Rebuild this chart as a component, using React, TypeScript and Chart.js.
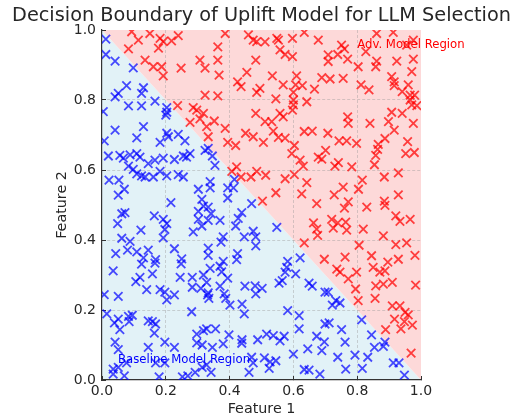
import { useEffect, useRef } from 'react';
import { Chart, registerables } from 'chart.js';

Chart.register(...registerables);

const TITLE = 'Decision Boundary of Uplift Model for LLM Selection';
const X_LABEL = 'Feature 1';
const Y_LABEL = 'Feature 2';
const ADV_LABEL = 'Adv. Model Region';
const BASE_LABEL = 'Baseline Model Region';
const ADV_LABEL_POS: [number, number] = [0.8, 0.95];
const BASE_LABEL_POS: [number, number] = [0.05, 0.05];
const TICKS = [0, 0.2, 0.4, 0.6, 0.8, 1.0];
// decision boundary line: Feature1 + Feature2 = 1
const boundary: [number, number][] = [[0, 1], [1, 0]];

const redPoints: [number, number][] = [
  [0.093, 0.995], [0.150, 0.990], [0.114, 0.971], [0.182, 0.976], [0.192, 0.967], [0.239, 0.984],
  [0.218, 0.969], [0.083, 0.946], [0.177, 0.948], [0.135, 0.914], [0.161, 0.895], [0.187, 0.895],
  [0.192, 0.869], [0.248, 0.891], [0.307, 0.914], [0.323, 0.891], [0.323, 0.814], [0.237, 0.784],
  [0.286, 0.778], [0.297, 0.771], [0.318, 0.762], [0.307, 0.746], [0.276, 0.736], [0.328, 0.724],
  [0.333, 0.695],
  [0.386, 0.990], [0.459, 0.986], [0.474, 0.971], [0.485, 0.967], [0.511, 0.966], [0.548, 0.976],
  [0.553, 0.971], [0.597, 0.976], [0.634, 0.993], [0.678, 0.971], [0.363, 0.952], [0.558, 0.943],
  [0.574, 0.930], [0.597, 0.924], [0.363, 0.914], [0.482, 0.914], [0.367, 0.871], [0.454, 0.879],
  [0.534, 0.869], [0.610, 0.869], [0.425, 0.852], [0.436, 0.838], [0.568, 0.843], [0.607, 0.843],
  [0.628, 0.841], [0.666, 0.831], [0.495, 0.833], [0.485, 0.822], [0.600, 0.822], [0.363, 0.812],
  [0.545, 0.803], [0.600, 0.800], [0.642, 0.795], [0.600, 0.786], [0.597, 0.771], [0.482, 0.762],
  [0.558, 0.762], [0.568, 0.752], [0.352, 0.740], [0.511, 0.738], [0.532, 0.738], [0.386, 0.719],
  [0.537, 0.711], [0.634, 0.710], [0.659, 0.711], [0.450, 0.705], [0.474, 0.695], [0.553, 0.693],
  [0.574, 0.691], [0.394, 0.679], [0.419, 0.670], [0.506, 0.679], [0.603, 0.670],
  [0.751, 0.957], [0.760, 0.946], [0.709, 0.929], [0.739, 0.930], [0.709, 0.910], [0.770, 0.917],
  [0.803, 0.895], [0.861, 0.990], [0.913, 0.993], [0.955, 0.957], [0.976, 0.971], [0.827, 0.938],
  [0.861, 0.911], [0.858, 0.895], [0.924, 0.911], [0.976, 0.917], [0.971, 0.881], [0.689, 0.864],
  [0.715, 0.860], [0.756, 0.862], [0.908, 0.867], [0.916, 0.852], [0.916, 0.841], [0.960, 0.843],
  [0.812, 0.843], [0.837, 0.829], [0.941, 0.824], [0.966, 0.814], [0.980, 0.814], [0.966, 0.800],
  [0.971, 0.786], [0.987, 0.784], [0.908, 0.765], [0.941, 0.762], [0.770, 0.752], [0.898, 0.738],
  [0.976, 0.733], [0.772, 0.733], [0.840, 0.733], [0.916, 0.714], [0.708, 0.705], [0.743, 0.683],
  [0.767, 0.683], [0.798, 0.676], [0.887, 0.690], [0.866, 0.673], [0.958, 0.681],
  [0.595, 0.647], [0.621, 0.628], [0.678, 0.637], [0.422, 0.609], [0.407, 0.596], [0.436, 0.580],
  [0.467, 0.580], [0.485, 0.596], [0.513, 0.585], [0.574, 0.575], [0.603, 0.587], [0.631, 0.611],
  [0.642, 0.564], [0.545, 0.535], [0.626, 0.532], [0.503, 0.511], [0.673, 0.504], [0.663, 0.449],
  [0.673, 0.431], [0.634, 0.392],
  [0.701, 0.656], [0.689, 0.631], [0.741, 0.621], [0.730, 0.611], [0.783, 0.609], [0.864, 0.659],
  [0.858, 0.642], [0.854, 0.615], [0.952, 0.647], [0.979, 0.650], [0.885, 0.580], [0.929, 0.592],
  [0.816, 0.571], [0.804, 0.545], [0.756, 0.551], [0.728, 0.529], [0.929, 0.529], [0.772, 0.509],
  [0.760, 0.491], [0.830, 0.494], [0.885, 0.511], [0.887, 0.499], [0.921, 0.469], [0.934, 0.453],
  [0.966, 0.459], [0.720, 0.459], [0.739, 0.449], [0.764, 0.451], [0.725, 0.434], [0.767, 0.428],
  [0.819, 0.431], [0.676, 0.413], [0.882, 0.412], [0.806, 0.385], [0.921, 0.387], [0.955, 0.392],
  [0.981, 0.356], [0.845, 0.355], [0.762, 0.351], [0.697, 0.345], [0.929, 0.345], [0.896, 0.337],
  [0.736, 0.317], [0.746, 0.308], [0.772, 0.289], [0.798, 0.308], [0.850, 0.322], [0.871, 0.308],
  [0.887, 0.312], [0.858, 0.269], [0.882, 0.274], [0.910, 0.279], [0.983, 0.271], [0.795, 0.260],
  [0.803, 0.227], [0.856, 0.233], [0.910, 0.212], [0.934, 0.212], [0.950, 0.193], [0.960, 0.186],
  [0.917, 0.174], [0.948, 0.167], [0.973, 0.157], [0.937, 0.146], [0.889, 0.144], [0.969, 0.077],
];

const bluePoints: [number, number][] = [
  [0.012, 0.974], [0.012, 0.930], [0.041, 0.911], [0.098, 0.892], [0.077, 0.841], [0.051, 0.819],
  [0.041, 0.809], [0.130, 0.835], [0.124, 0.819], [0.166, 0.797], [0.083, 0.783], [0.124, 0.783],
  [0.203, 0.778], [0.203, 0.765], [0.200, 0.757], [0.004, 0.767], [0.041, 0.714], [0.130, 0.724],
  [0.109, 0.692], [0.203, 0.705], [0.208, 0.695], [0.239, 0.702], [0.260, 0.683], [0.182, 0.679],
  [0.007, 0.683],
  [0.020, 0.640], [0.056, 0.642], [0.067, 0.634], [0.088, 0.643], [0.109, 0.647], [0.119, 0.637],
  [0.083, 0.611], [0.098, 0.602], [0.145, 0.618], [0.166, 0.628], [0.192, 0.634], [0.227, 0.630],
  [0.255, 0.640], [0.276, 0.647], [0.265, 0.637], [0.323, 0.656], [0.109, 0.589], [0.124, 0.583],
  [0.135, 0.580], [0.161, 0.580], [0.182, 0.596], [0.203, 0.583], [0.239, 0.587], [0.255, 0.580],
  [0.022, 0.571], [0.053, 0.571], [0.070, 0.545], [0.051, 0.528], [0.302, 0.545], [0.313, 0.516],
  [0.216, 0.507], [0.318, 0.497], [0.302, 0.482], [0.062, 0.475], [0.072, 0.478], [0.164, 0.469],
  [0.049, 0.447], [0.192, 0.459], [0.203, 0.447], [0.302, 0.459], [0.333, 0.456], [0.313, 0.440],
  [0.122, 0.428], [0.197, 0.430], [0.286, 0.423], [0.192, 0.406], [0.062, 0.405], [0.088, 0.396],
  [0.080, 0.371], [0.043, 0.361], [0.109, 0.366], [0.145, 0.371], [0.130, 0.349], [0.168, 0.344],
  [0.227, 0.375], [0.250, 0.346], [0.333, 0.356],
  [0.333, 0.662], [0.346, 0.640], [0.354, 0.613], [0.415, 0.573], [0.339, 0.567], [0.339, 0.549],
  [0.394, 0.549], [0.412, 0.549], [0.394, 0.520], [0.469, 0.504], [0.333, 0.494], [0.342, 0.475],
  [0.370, 0.456], [0.438, 0.478], [0.427, 0.462], [0.419, 0.440], [0.548, 0.436], [0.474, 0.425],
  [0.446, 0.409], [0.482, 0.409], [0.380, 0.409], [0.373, 0.394], [0.333, 0.377], [0.482, 0.383],
  [0.425, 0.361], [0.380, 0.339], [0.621, 0.349], [0.582, 0.339],
  [0.124, 0.331], [0.166, 0.334], [0.035, 0.312], [0.158, 0.303], [0.248, 0.332], [0.119, 0.293],
  [0.106, 0.281], [0.245, 0.293], [0.283, 0.293], [0.318, 0.300], [0.283, 0.265], [0.310, 0.262],
  [0.140, 0.258], [0.182, 0.258], [0.197, 0.251], [0.227, 0.243], [0.203, 0.229], [0.007, 0.244],
  [0.051, 0.239], [0.331, 0.243], [0.281, 0.195], [0.015, 0.189], [0.051, 0.174], [0.039, 0.163],
  [0.083, 0.182], [0.095, 0.185], [0.085, 0.167], [0.056, 0.144], [0.145, 0.169], [0.158, 0.167],
  [0.168, 0.160], [0.164, 0.134], [0.297, 0.131], [0.318, 0.141], [0.041, 0.108], [0.051, 0.087],
  [0.145, 0.093], [0.197, 0.108], [0.227, 0.093], [0.297, 0.106], [0.314, 0.100], [0.314, 0.036],
  [0.077, 0.049], [0.051, 0.036], [0.035, 0.031], [0.168, 0.049], [0.197, 0.049], [0.070, 0.012],
  [0.035, 0.017], [0.179, 0.009], [0.252, 0.009], [0.269, 0.012], [0.292, 0.022],
  [0.339, 0.319], [0.370, 0.325], [0.375, 0.309], [0.422, 0.344], [0.579, 0.322], [0.574, 0.308],
  [0.607, 0.303], [0.394, 0.291], [0.328, 0.279], [0.370, 0.268], [0.448, 0.268], [0.480, 0.269],
  [0.502, 0.262], [0.482, 0.246], [0.555, 0.277], [0.565, 0.284], [0.649, 0.277], [0.659, 0.268],
  [0.333, 0.249], [0.335, 0.233], [0.383, 0.246], [0.388, 0.233], [0.401, 0.214], [0.439, 0.217],
  [0.446, 0.189], [0.582, 0.198], [0.618, 0.184], [0.618, 0.146], [0.673, 0.125], [0.328, 0.146],
  [0.356, 0.146], [0.398, 0.129], [0.346, 0.093], [0.380, 0.103], [0.439, 0.115], [0.438, 0.105],
  [0.488, 0.115], [0.516, 0.131], [0.537, 0.127], [0.558, 0.112], [0.571, 0.125], [0.600, 0.074],
  [0.645, 0.089], [0.469, 0.065], [0.474, 0.049], [0.461, 0.022], [0.509, 0.063], [0.527, 0.052],
  [0.545, 0.055], [0.524, 0.033], [0.634, 0.030], [0.649, 0.028], [0.328, 0.043], [0.342, 0.022],
  [0.709, 0.251], [0.699, 0.251], [0.733, 0.227], [0.722, 0.214], [0.746, 0.220], [0.814, 0.172],
  [0.699, 0.160], [0.712, 0.163], [0.751, 0.144], [0.845, 0.129], [0.697, 0.109], [0.762, 0.108],
  [0.887, 0.108], [0.854, 0.093], [0.882, 0.096], [0.689, 0.084], [0.739, 0.065], [0.793, 0.071],
  [0.833, 0.065], [0.913, 0.049], [0.931, 0.049], [0.764, 0.031], [0.816, 0.033], [0.683, 0.017],
  [0.948, 0.014],
];

const FONT = "'DejaVu Sans', sans-serif";
const TEXT_COLOR = '#262626';
const RED_BG = '#fdd9d9';
const BLUE_BG = '#e2f2f7';

const regionPlugin = {
  id: 'regions',
  beforeDraw(chart: any) {
    const { ctx } = chart;
    const xs = chart.scales.x;
    const ys = chart.scales.y;
    const [[bx0, by0], [bx1, by1]] = boundary;
    const px = (v: number) => xs.getPixelForValue(v);
    const py = (v: number) => ys.getPixelForValue(v);
    ctx.save();
    ctx.fillStyle = BLUE_BG;
    ctx.beginPath();
    ctx.moveTo(px(0), py(0));
    ctx.lineTo(px(bx1), py(by1));
    ctx.lineTo(px(bx0), py(by0));
    ctx.closePath();
    ctx.fill();
    ctx.fillStyle = RED_BG;
    ctx.beginPath();
    ctx.moveTo(px(bx1), py(by1));
    ctx.lineTo(px(1), py(1));
    ctx.lineTo(px(bx0), py(by0));
    ctx.closePath();
    ctx.fill();
    ctx.restore();
  },
};

const textPlugin = {
  id: 'texts',
  afterDatasetsDraw(chart: any) {
    const { ctx } = chart;
    const xs = chart.scales.x;
    const ys = chart.scales.y;
    ctx.save();
    ctx.font = `11.7px ${FONT}`;
    ctx.textAlign = 'left';
    ctx.textBaseline = 'alphabetic';
    ctx.fillStyle = '#ff0000';
    ctx.fillText(ADV_LABEL, xs.getPixelForValue(ADV_LABEL_POS[0]), ys.getPixelForValue(ADV_LABEL_POS[1]));
    ctx.fillStyle = '#0000ff';
    ctx.fillText(BASE_LABEL, xs.getPixelForValue(BASE_LABEL_POS[0]), ys.getPixelForValue(BASE_LABEL_POS[1]));
    ctx.restore();
  },
  afterDraw(chart: any) {
    const { ctx, chartArea } = chart;
    const cx = (chartArea.left + chartArea.right) / 2;
    const cy = (chartArea.top + chartArea.bottom) / 2;
    ctx.save();
    ctx.fillStyle = TEXT_COLOR;
    ctx.textAlign = 'center';
    ctx.textBaseline = 'alphabetic';
    ctx.font = `19.3px ${FONT}`;
    ctx.fillText(TITLE, cx, 21);
    ctx.font = `14.3px ${FONT}`;
    ctx.textBaseline = 'middle';
    ctx.fillText(X_LABEL, cx, chartArea.bottom + 29);
    ctx.translate(62, cy);
    ctx.rotate(-Math.PI / 2);
    ctx.fillText(Y_LABEL, 0, 0);
    ctx.restore();
  },
};

const gridColor = (c: any) => {
  const v = c.tick ? c.tick.value : null;
  if (v === null || Math.abs(v) < 1e-9 || Math.abs(v - 1) < 1e-9) return 'rgba(0,0,0,0)';
  return 'rgba(150,150,150,0.45)';
};

function axis(isX: boolean) {
  return {
    type: 'linear' as const,
    min: 0,
    max: 1,
    afterBuildTicks(scale: any) {
      scale.ticks = TICKS.map((v) => ({ value: v }));
    },
    afterFit(scale: any) {
      if (isX) scale.height = 39;
      else scale.width = 102;
    },
    ticks: {
      color: TEXT_COLOR,
      font: { family: FONT, size: 14 },
      padding: isX ? 7 : 10,
      maxRotation: 0,
      autoSkip: false,
      callback: (v: any) => Number(v).toFixed(1),
    },
    grid: {
      color: gridColor,
      lineWidth: 0.9,
      drawTicks: true,
      tickLength: -4,
      tickColor: '#333333',
      tickWidth: 1,
    },
    border: {
      display: true,
      color: '#333333',
      width: 1.2,
      dash: [3, 2],
    },
  };
}

export default function App() {
  const ref = useRef<HTMLCanvasElement | null>(null);
  useEffect(() => {
    if (!ref.current) return;
    const chart = new Chart(ref.current, {
      type: 'scatter',
      data: {
        datasets: [
          {
            label: 'Adv',
            data: redPoints.map(([x, y]) => ({ x, y })),
            pointStyle: 'crossRot',
            radius: 6,
            borderWidth: 1.8,
            borderColor: 'rgba(255,0,0,0.72)',
            backgroundColor: 'rgba(255,0,0,0.72)',
            clip: 0,
          },
          {
            label: 'Baseline',
            data: bluePoints.map(([x, y]) => ({ x, y })),
            pointStyle: 'crossRot',
            radius: 6,
            borderWidth: 1.8,
            borderColor: 'rgba(0,0,255,0.7)',
            backgroundColor: 'rgba(0,0,255,0.7)',
            clip: 0,
          },
        ],
      },
      options: {
        responsive: false,
        animation: false,
        devicePixelRatio: 1,
        layout: { padding: { top: 30, right: 93, left: 0, bottom: 0 } },
        plugins: {
          legend: { display: false },
          title: { display: false },
          tooltip: { enabled: false },
        },
        events: [],
        scales: {
          x: axis(true),
          y: axis(false),
        },
      },
      plugins: [regionPlugin, textPlugin],
    } as any);
    return () => chart.destroy();
  }, []);
  return (
    <div style={{ position: 'absolute', left: 0, top: 0, width: 514, height: 419, background: '#fff' }}>
      <canvas ref={ref} width={514} height={419} style={{ width: 514, height: 419, display: 'block' }} />
    </div>
  );
}
